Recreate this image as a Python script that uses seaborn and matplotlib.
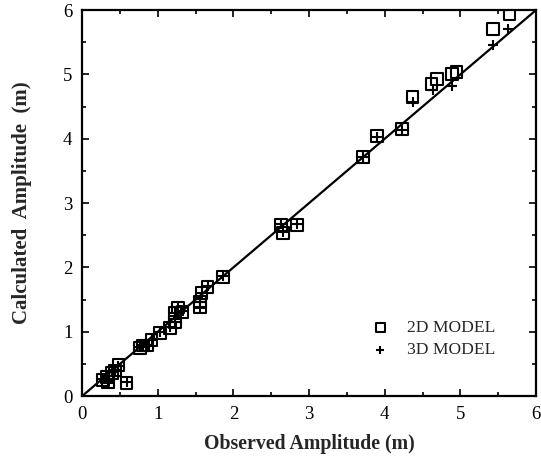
import matplotlib
matplotlib.use('Agg')

import seaborn as sns
import matplotlib.pyplot as plt
from matplotlib.ticker import MultipleLocator

# observed vs calculated amplitudes (m)
obs_2d = [0.28, 0.34, 0.33, 0.40, 0.44, 0.48, 0.59, 0.77, 0.81, 0.86, 0.92,
          1.03, 1.16, 1.23, 1.23, 1.27, 1.33, 1.56, 1.56, 1.58, 1.66, 1.86,
          2.63, 2.66, 2.84, 3.71, 3.90, 4.23, 4.37, 4.62, 4.69, 4.89, 4.95,
          5.43, 5.65]
calc_2d = [0.25, 0.22, 0.30, 0.36, 0.40, 0.48, 0.20, 0.75, 0.79, 0.79, 0.87,
           0.98, 1.06, 1.15, 1.29, 1.38, 1.31, 1.38, 1.46, 1.60, 1.70, 1.85,
           2.66, 2.54, 2.66, 3.72, 4.04, 4.15, 4.65, 4.85, 4.93, 5.01, 5.04,
           5.71, 5.93]

obs_3d = [0.28, 0.34, 0.33, 0.40, 0.44, 0.48, 0.59, 0.77, 0.81, 0.86, 0.92,
          1.03, 1.16, 1.23, 1.23, 1.27, 1.33, 1.56, 1.56, 1.58, 1.66, 1.86,
          2.63, 2.66, 2.84, 3.71, 3.90, 4.23, 4.37, 4.64, 4.89, 5.43, 5.63]
calc_3d = [0.26, 0.23, 0.31, 0.37, 0.41, 0.47, 0.22, 0.76, 0.80, 0.80, 0.88,
           0.99, 1.07, 1.16, 1.30, 1.39, 1.32, 1.39, 1.47, 1.61, 1.71, 1.86,
           2.67, 2.55, 2.67, 3.72, 4.03, 4.14, 4.57, 4.76, 4.82, 5.46, 5.71]

line_x = [0, 6]
line_y = [0, 6]

sns.set_style('ticks')
plt.rcParams['font.family'] = ['Liberation Serif', 'DejaVu Serif']

fig = plt.figure(figsize=(5.41, 4.58), dpi=100)
ax = fig.add_axes([0.1516, 0.135, 0.8392, 0.843])

sns.lineplot(x=line_x, y=line_y, color='black', linewidth=1.6, ax=ax)
sns.scatterplot(x=obs_2d, y=calc_2d, marker='s', s=70, facecolor='none',
                edgecolor='black', linewidth=1.5, label='2D MODEL', ax=ax, zorder=3)
sns.scatterplot(x=obs_3d, y=calc_3d, marker='+', s=45, color='black',
                linewidth=1.5, label='3D MODEL', ax=ax, zorder=4)

ax.set_xlim(0, 6)
ax.set_ylim(0, 6)
ax.xaxis.set_major_locator(MultipleLocator(1))
ax.yaxis.set_major_locator(MultipleLocator(1))
ax.xaxis.set_minor_locator(MultipleLocator(0.5))
ax.yaxis.set_minor_locator(MultipleLocator(0.5))
ax.tick_params(which='both', direction='in', top=True, right=True,
               width=1.2, labelsize=13.5, colors='black')
ax.tick_params(which='major', length=5, pad=7)
ax.tick_params(which='minor', length=3)
for sp in ax.spines.values():
    sp.set_linewidth(1.6)
    sp.set_color('black')

ax.set_xlabel('Observed Amplitude (m)', fontsize=14.3, fontweight='bold', labelpad=8)
ax.set_ylabel('Calculated  Amplitude  (m)', fontsize=15, fontweight='bold', labelpad=22)

leg = ax.legend(loc='lower right', bbox_to_anchor=(0.925, 0.08), frameon=False,
                fontsize=12.6, handletextpad=0.5, labelspacing=0.35,
                borderaxespad=0, markerscale=0.8)

fig.savefig('out.png', dpi=100)
